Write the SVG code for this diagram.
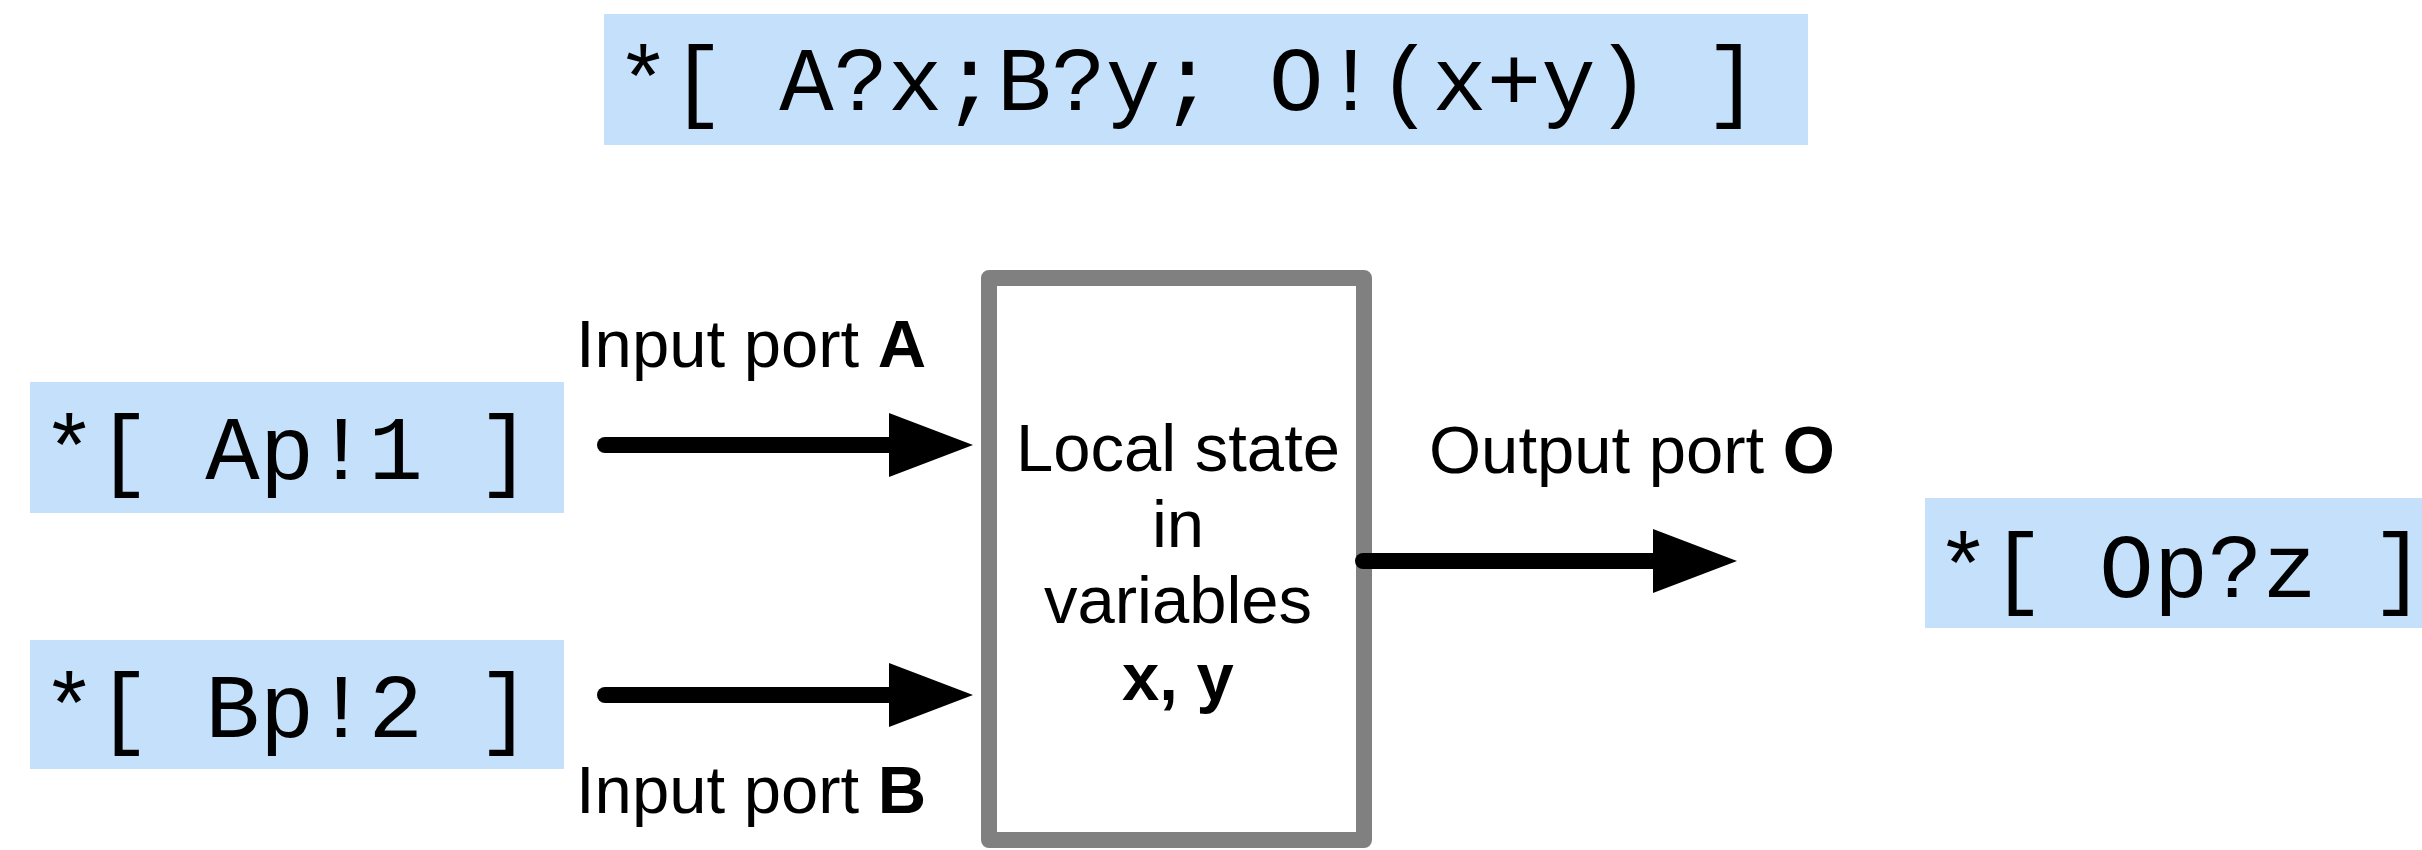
<svg xmlns="http://www.w3.org/2000/svg" width="2422" height="850" viewBox="0 0 2422 850">
  <style>
    .code-bg { fill: #c4e0fa; }
    .code { font-family: "Liberation Mono", "Courier New", monospace; font-size: 90.7px; fill: #000; white-space: pre; }
    .label { font-family: "Liberation Sans", Arial, Helvetica, sans-serif; font-size: 67px; fill: #000; }
    .center { text-anchor: middle; }
    .bold { font-weight: bold; }
    .process { fill: #fff; stroke: #808080; stroke-width: 16; stroke-linejoin: round; }
    .wire { stroke: #000; stroke-width: 16; stroke-linecap: round; fill: none; marker-end: url(#head); }
  </style>
  <defs>
    <marker id="head" markerUnits="userSpaceOnUse" markerWidth="84" markerHeight="64" refX="0" refY="32" orient="auto" viewBox="0 0 84 64">
      <path d="M0,0 L84,32 L0,64 Z" fill="#000"/>
    </marker>
  </defs>

  <rect width="2422" height="850" fill="#fff"/>

  <!-- combined process: read A and B, emit the sum on O -->
  <g id="adder-program">
    <rect class="code-bg" x="604" y="14" width="1204" height="131"/>
    <text class="code" x="616" y="110">*[ A?x;B?y; O!(x+y) ]</text>
  </g>

  <!-- producer on port A -->
  <g id="producer-a">
    <rect class="code-bg" x="30" y="382" width="534" height="131"/>
    <text class="code" x="42" y="479">*[ Ap!1 ]</text>
  </g>

  <!-- producer on port B -->
  <g id="producer-b">
    <rect class="code-bg" x="30" y="640" width="534" height="129"/>
    <text class="code" x="42" y="737">*[ Bp!2 ]</text>
  </g>

  <!-- consumer on port O -->
  <g id="consumer-o">
    <rect class="code-bg" x="1925" y="498" width="497" height="130"/>
    <text class="code" x="1936" y="597">*[ Op?z ]</text>
  </g>

  <!-- the process box with its local state -->
  <g id="process">
    <rect class="process" x="989" y="278" width="375" height="562"/>
    <text class="label center" x="1178" y="471">Local state</text>
    <text class="label center" x="1178" y="547">in</text>
    <text class="label center" x="1178" y="623">variables</text>
    <text class="label center bold" x="1178" y="700">x, y</text>
  </g>

  <!-- port labels -->
  <g id="label-port-a">
    <text class="label" x="576" y="367">Input port <tspan class="bold">A</tspan></text>
  </g>
  <g id="label-port-b">
    <text class="label" x="576" y="813">Input port <tspan class="bold">B</tspan></text>
  </g>
  <g id="label-port-o">
    <text class="label" x="1429" y="473">Output port <tspan class="bold">O</tspan></text>
  </g>

  <!-- channels -->
  <g id="connectors">
    <line class="wire" x1="605" y1="445" x2="889" y2="445"/>
    <line class="wire" x1="605" y1="695" x2="889" y2="695"/>
    <line class="wire" x1="1363" y1="561" x2="1653" y2="561"/>
  </g>
</svg>
